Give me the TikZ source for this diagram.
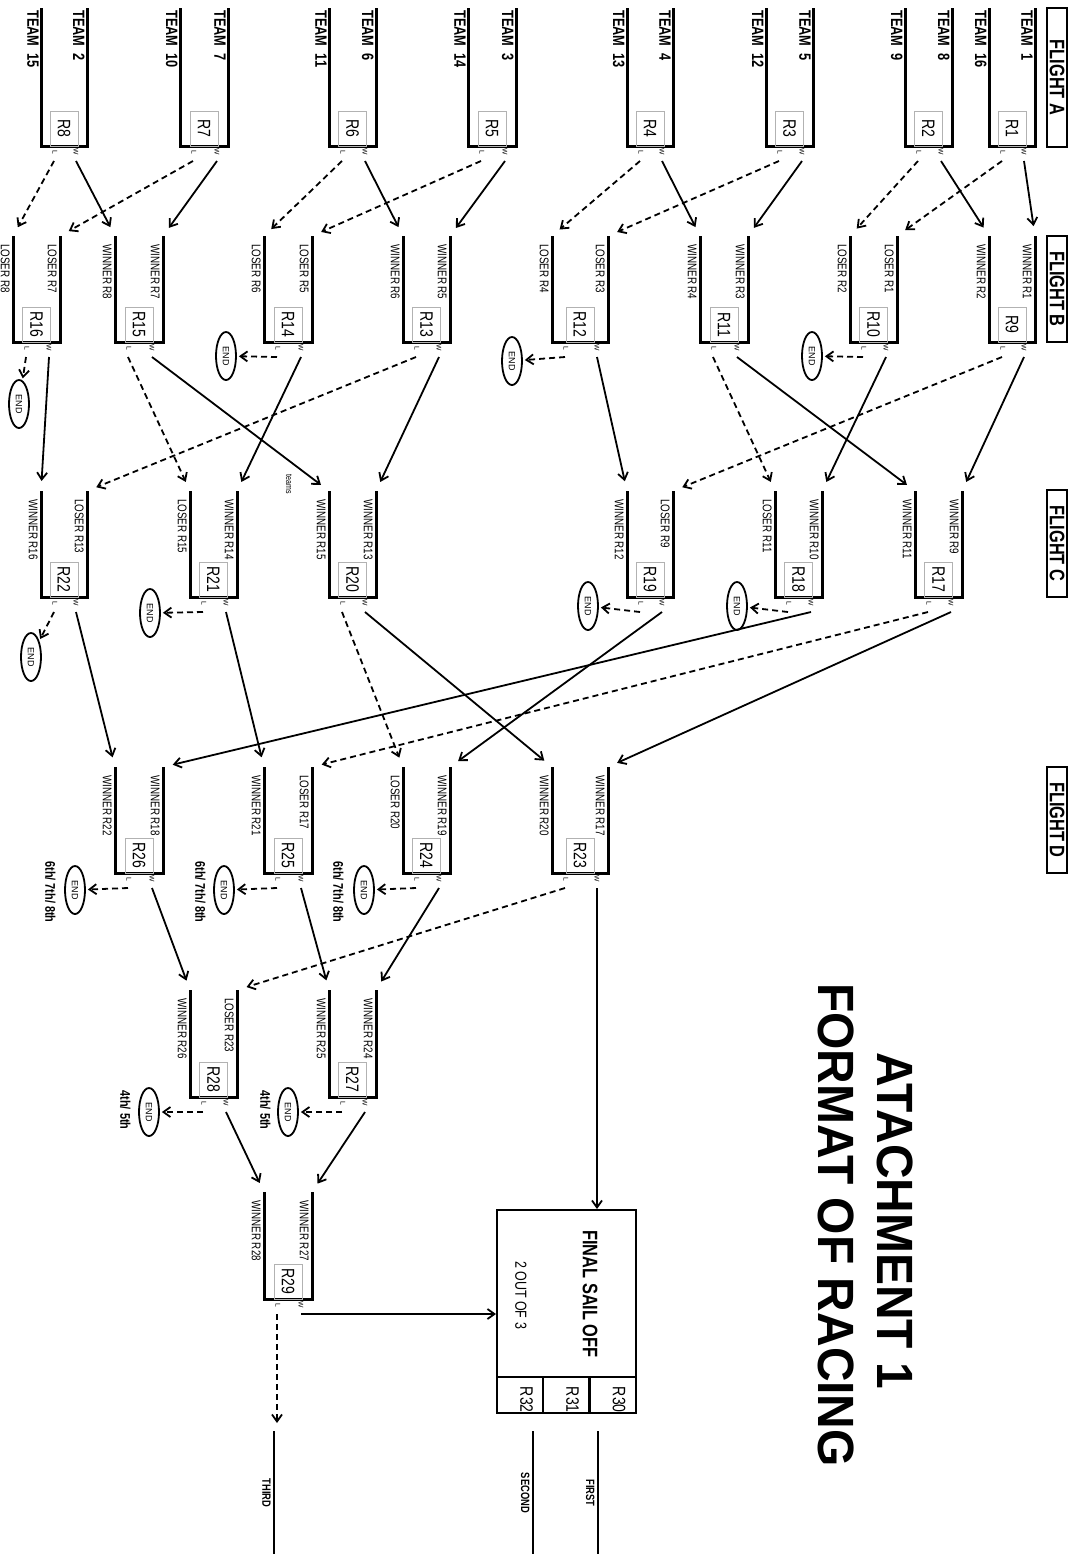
\documentclass[tikz,border=0pt]{standalone}
\usepackage{fontspec}
\setmainfont{Liberation Sans}
\usetikzlibrary{arrows.meta,shapes.geometric}
\begin{document}
\begin{tikzpicture}[x=0.5pt,y=-0.5pt,
    brk/.style={line width=1.5pt},
    rbox/.style={draw=gray!60,line width=0.4pt,rotate=-90,xscale=0.78,minimum width=22.4pt,minimum height=14pt,inner sep=0pt,font=\fontsize{9}{9}\selectfont},
    wl/.style={rotate=-90,inner sep=0pt,font=\fontsize{3.4}{3.4}\selectfont},
    team/.style={rotate=-90,xscale=0.78,anchor=north west,inner sep=0pt,font=\fontsize{8.2}{9}\selectfont\bfseries},
    entry/.style={rotate=-90,xscale=0.78,anchor=north west,inner sep=0pt,font=\fontsize{6.3}{7}\selectfont},
    flight/.style={draw,line width=0.8pt,rotate=-90,xscale=0.78,minimum height=10pt,inner sep=0pt,font=\fontsize{10.5}{11}\selectfont\bfseries},
    endn/.style={ellipse,draw,line width=0.9pt,rotate=-90,minimum width=24pt,minimum height=10pt,inner sep=0pt,font=\fontsize{4.5}{5}\selectfont},
    place/.style={rotate=-90,xscale=0.78,anchor=north,inner sep=0pt,font=\fontsize{7}{8}\selectfont\bfseries},
    win/.style={line width=0.9pt,-{Straight Barb[length=3.5pt,width=5pt]},shorten >=5pt},
    lose/.style={win,dash pattern=on 3pt off 2pt},
    endl/.style={lose,shorten >=1pt},
    title/.style={rotate=-90,xscale=0.94,inner sep=0pt,font=\fontsize{25.5}{30}\selectfont\bfseries}]
  \useasboundingbox (0,0) rectangle (1069,1554);

  % flights
  \node[flight,minimum width=89.1pt] (fa) at (1057,77.5) {FLIGHT A};
  \node[flight,minimum width=67.9pt] (fb) at (1057,289) {FLIGHT B};
  \node[flight,minimum width=68.6pt] (fc) at (1057,543.5) {FLIGHT C};
  \node[flight,minimum width=67.9pt] (fd) at (1057,820) {FLIGHT D};

  % races
  \foreach \n/\xa/\xb/\yt/\yb in {
      1/1035/989/8/146, 2/952/905/8/146, 3/813/766/8/146, 4/673/627/8/146,
      5/516/468/8/146, 6/376/329/8/146, 7/228/180/8/146, 8/87/41/8/146,
      9/1035/989/236/342, 10/897/850/236/342, 11/748/700/236/342, 12/608/552/236/342,
      13/450/403/236/342, 14/312/264/236/342, 15/163/115/236/342, 16/60/13/236/342,
      17/962/915/491/597, 18/822/775/491/597, 19/673/627/491/597,
      20/376/329/491/597, 21/237/190/491/597, 22/87/41/491/597,
      23/608/552/767/873, 24/450/403/767/873, 25/312/264/767/873, 26/163/115/767/873,
      27/376/329/990/1097, 28/237/190/990/1097, 29/312/264/1192/1299}{
    \draw[brk] (\xa,\yt) -- (\xa,\yb) -- (\xb,\yb) -- (\xb,\yt);
    \node[rbox] (R\n) at ({(\xa+\xb)/2},\yb-17.5) {R\n};
    \coordinate (R\n-a) at (\xa,\yt);
    \coordinate (R\n-b) at (\xb,\yt);
    \node[wl] (R\n-wt) at (\xa-11,\yb+6) {W};
    \node[wl] (R\n-lt) at (\xb+14,\yb+6) {L};
    \coordinate (R\n-w) at (\xa-11,\yb+15);
    \coordinate (R\n-l) at (\xb+13,\yb+15);
  }

  % teams
  \foreach \n/\ta/\tb in {1/1/16, 2/8/9, 3/5/12, 4/4/13, 5/3/14, 6/6/11, 7/7/10, 8/2/15}{
    \node[team] (t\n a) at ([shift={(-2,2)}]R\n-a) {TEAM\ \ \ta};
    \node[team] (t\n b) at ([shift={(-2,2)}]R\n-b) {TEAM\ \ \tb};
  }

  % entries
  \foreach \n/\la/\lb in {
      9/WINNER R1/WINNER R2, 10/LOSER R1/LOSER R2, 11/WINNER R3/WINNER R4,
      12/LOSER R3/LOSER R4, 13/WINNER R5/WINNER R6, 14/LOSER R5/LOSER R6,
      15/WINNER R7/WINNER R8, 16/LOSER R7/LOSER R8, 17/WINNER R9/WINNER R11,
      18/WINNER R10/LOSER R11, 19/LOSER R9/WINNER R12, 20/WINNER R13/WINNER R15,
      21/WINNER R14/LOSER R15, 22/LOSER R13/WINNER R16, 23/WINNER R17/WINNER R20,
      24/WINNER R19/LOSER R20, 25/LOSER R17/WINNER R21, 26/WINNER R18/WINNER R22,
      27/WINNER R24/WINNER R25, 28/LOSER R23/WINNER R26, 29/WINNER R27/WINNER R28}{
    \node[entry] (n\n a) at ([shift={(-3,8)}]R\n-a) {\la};
    \node[entry] (n\n b) at ([shift={(-3,8)}]R\n-b) {\lb};
  }
  \node[rotate=-90,xscale=0.78,inner sep=0pt,font=\fontsize{4.5}{5}\selectfont] (teams) at (289,484) {teams};

  % ends
  \node[endn] (e10) at (812,356) {END};
  \node[endn] (e12) at (512,361) {END};
  \node[endn] (e14) at (226,356) {END};
  \node[endn] (e16) at (19,404) {END};
  \node[endn] (e18) at (737,606) {END};
  \node[endn] (e19) at (588,606) {END};
  \node[endn] (e21) at (150,613) {END};
  \node[endn] (e22) at (31,657) {END};
  \node[endn] (e24) at (364,890) {END};
  \node[endn] (e25) at (224,890) {END};
  \node[endn] (e26) at (75,890) {END};
  \node[endn] (e27) at (288,1112) {END};
  \node[endn] (e28) at (149,1112) {END};
  \node[place] (p24) at (344,892) {6th/ 7th/ 8th};
  \node[place] (p25) at (206,892) {6th/ 7th/ 8th};
  \node[place] (p26) at (56,892) {6th/ 7th/ 8th};
  \node[place] (p27) at (271,1110) {4th/ 5th};
  \node[place] (p28) at (131,1110) {4th/ 5th};

  % final sail off
  \node[draw,line width=1pt,minimum width=69.5pt,minimum height=83.5pt,inner sep=0pt] (final) at (566.5,1293.5) {};
  \node[draw,line width=1pt,minimum width=23pt,minimum height=18pt,inner sep=0pt] (c30) at (612.5,1395) {};
  \node[draw,line width=1pt,minimum width=23pt,minimum height=18pt,inner sep=0pt] (c31) at (566,1395) {};
  \node[draw,line width=1pt,minimum width=23pt,minimum height=18pt,inner sep=0pt] (c32) at (520,1395) {};
  \node[rbox,draw=none,anchor=north west] (r30) at ([shift={(-3,6)}]c30.north east) {R30};
  \node[rbox,draw=none,anchor=north west] (r31) at ([shift={(-3,6)}]c31.north east) {R31};
  \node[rbox,draw=none,anchor=north west] (r32) at ([shift={(-3,6)}]c32.north east) {R32};
  \node[rotate=-90,xscale=0.78,inner sep=0pt,font=\fontsize{10.5}{11}\selectfont\bfseries] (fso) at (590,1294) {FINAL SAIL OFF};
  \node[rotate=-90,xscale=0.78,inner sep=0pt,font=\fontsize{8}{9}\selectfont] (two) at (521,1295) {2 OUT OF 3};

  % places
  \coordinate (fst) at (598,1431);
  \coordinate (snd) at (533,1431);
  \coordinate (thr) at (274,1431);
  \draw[line width=1.2pt] (fst) -- ++(0,123);
  \draw[line width=1.2pt] (snd) -- ++(0,123);
  \draw[line width=1.2pt] (thr) -- ++(0,123);
  \node[place,font=\fontsize{6}{7}\selectfont\bfseries] (first) at (595,1493) {FIRST};
  \node[place,font=\fontsize{6}{7}\selectfont\bfseries] (second) at (530,1493) {SECOND};
  \node[place,font=\fontsize{6}{7}\selectfont\bfseries] (third) at (271,1493) {THIRD};

  % title
  \node[title] (tt1) at (895,1221) {ATACHMENT 1};
  \node[title] (tt2) at (836,1225) {FORMAT OF RACING};

  % flight A to B
  \draw[win] (R1-w) -- (R9-a);
  \draw[lose] (R1-l) -- (R10-a);
  \draw[win] (R2-w) -- (R9-b);
  \draw[lose] (R2-l) -- (R10-b);
  \draw[win] (R3-w) -- (R11-a);
  \draw[lose] (R3-l) -- (R12-a);
  \draw[win] (R4-w) -- (R11-b);
  \draw[lose] (R4-l) -- (R12-b);
  \draw[win] (R5-w) -- (R13-a);
  \draw[lose] (R5-l) -- (R14-a);
  \draw[win] (R6-w) -- (R13-b);
  \draw[lose] (R6-l) -- (R14-b);
  \draw[win] (R7-w) -- (R15-a);
  \draw[lose] (R7-l) -- (R16-a);
  \draw[win] (R8-w) -- (R15-b);
  \draw[lose] (R8-l) -- (R16-b);

  % flight B to C
  \draw[win] (R9-w) -- (R17-a);
  \draw[lose] (R9-l) -- (R19-a);
  \draw[win] (R10-w) -- (R18-a);
  \draw[endl] (R10-l) -- (e10);
  \draw[win] (R11-w) -- (R17-b);
  \draw[lose] (R11-l) -- (R18-b);
  \draw[win] (R12-w) -- (R19-b);
  \draw[endl] (R12-l) -- (e12);
  \draw[win] (R13-w) -- (R20-a);
  \draw[lose] (R13-l) -- (R22-a);
  \draw[win] (R14-w) -- (R21-a);
  \draw[endl] (R14-l) -- (e14);
  \draw[win] (R15-w) -- (R20-b);
  \draw[lose] (R15-l) -- (R21-b);
  \draw[win] (R16-w) -- (R22-b);
  \draw[endl] (R16-l) -- (e16);

  % flight C to D
  \draw[win] (R17-w) -- (R23-a);
  \draw[lose] (R17-l) -- (R25-a);
  \draw[win] (R18-w) -- (R26-a);
  \draw[endl] (R18-l) -- (e18);
  \draw[win] (R19-w) -- (R24-a);
  \draw[endl] (R19-l) -- (e19);
  \draw[win] (R20-w) -- (R23-b);
  \draw[lose] (R20-l) -- (R24-b);
  \draw[win] (R21-w) -- (R25-b);
  \draw[endl] (R21-l) -- (e21);
  \draw[win] (R22-w) -- (R26-b);
  \draw[endl] (R22-l) -- (e22);

  % flight D on
  \draw[win,shorten >=0pt] (R23-w) -- (R23-w |- final.north);
  \draw[lose] (R23-l) -- (R28-a);
  \draw[win] (R24-w) -- (R27-a);
  \draw[endl] (R24-l) -- (e24);
  \draw[win] (R25-w) -- (R27-b);
  \draw[endl] (R25-l) -- (e25);
  \draw[win] (R26-w) -- (R28-b);
  \draw[endl] (R26-l) -- (e26);
  \draw[win] (R27-w) -- (R29-a);
  \draw[endl] (R27-l) -- (e27);
  \draw[win] (R28-w) -- (R29-b);
  \draw[endl] (R28-l) -- (e28);
  \draw[win,shorten >=0pt] (R29-w) -- (R29-w -| final.west);
  \draw[lose,shorten >=4pt] (R29-l) -- (R29-l |- thr);
\end{tikzpicture}
\end{document}
